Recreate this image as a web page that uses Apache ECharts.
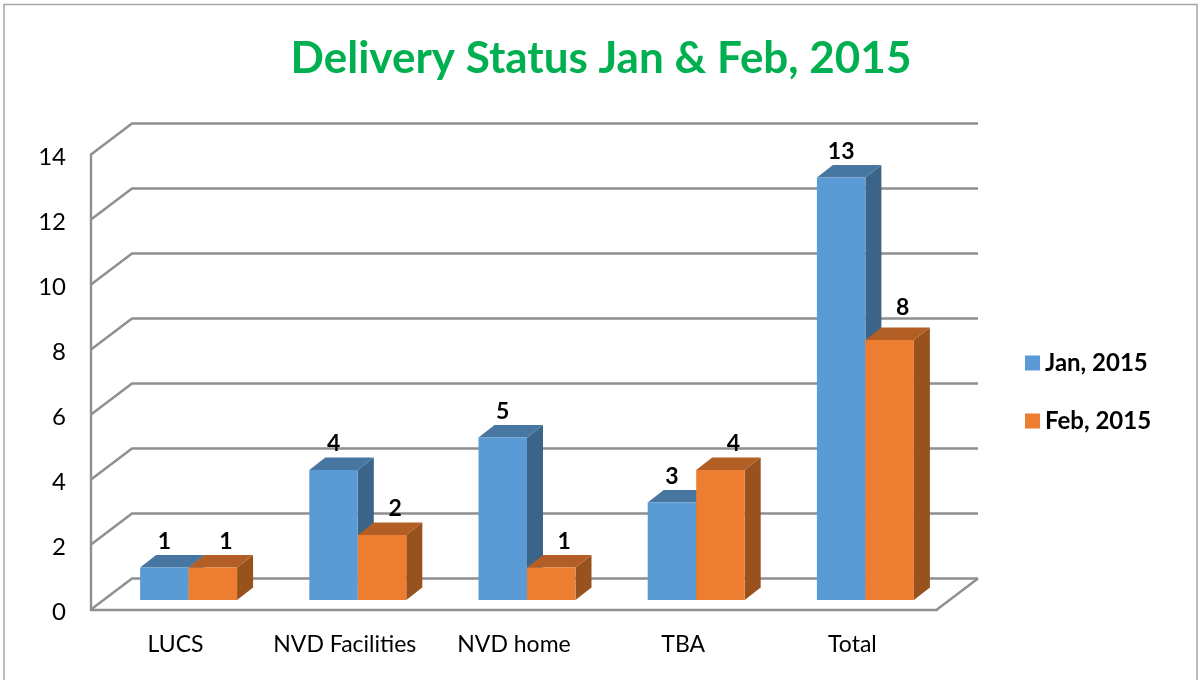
<!DOCTYPE html>
<html>
<head>
<meta charset="utf-8">
<title>Delivery Status</title>
<script src="https://cdn.jsdelivr.net/npm/echarts@6/dist/echarts.min.js"></script>
<style>
  html, body { margin: 0; padding: 0; background: #fff; overflow: hidden; }
  #chart { width: 1198px; height: 680px; }
</style>
</head>
<body>
<div id="chart"></div>
<script>
const categories = ["LUCS", "NVD Facilities", "NVD home", "TBA", "Total"];
const janValues = [1, 4, 5, 3, 13];
const febValues = [1, 2, 1, 4, 8];
const wallTicks = [0, 2, 4, 6, 8, 10, 12, 14];

const FONT = "Lato, 'Open Sans', sans-serif";
const GRID_COLOR = "#8f8f8f";

// how far the back wall sits behind the front plane
const WALL_DX = 41;
const WALL_DY = 31;
// bars stand a little way in from the front of the floor
const BAR_DX = 13;
const BAR_DY = 9.5;
// depth of each bar
const DEPTH_X = 16;
const DEPTH_Y = 12.5;
const BAR_RATIO = 0.2866;

// gridline: from the front axis up to the back wall, then along it
function renderWall(params, api) {
  const grid = params.coordSys;
  const y = api.coord([0, api.value(0)])[1];
  const children = [
    {
      type: "polyline",
      shape: {
        points: [
          [grid.x, y],
          [grid.x + WALL_DX, y - WALL_DY],
          [grid.x + grid.width + WALL_DX, y - WALL_DY],
        ],
      },
      style: { stroke: GRID_COLOR, lineWidth: 2.4, fill: null },
    },
  ];
  // right edge of the floor
  if (api.value(0) === 0) {
    children.push({
      type: "line",
      shape: {
        x1: grid.x + grid.width,
        y1: y,
        x2: grid.x + grid.width + WALL_DX,
        y2: y - WALL_DY,
      },
      style: { stroke: GRID_COLOR, lineWidth: 2.4 },
    });
  }
  return { type: "group", children: children };
}

function makeBarRenderer(side, front, top, flank, labelShift) {
  return function (params, api) {
    const value = api.value(1);
    const topPoint = api.coord([api.value(0), value]);
    const basePoint = api.coord([api.value(0), 0]);
    const w = api.size([1, 0])[0] * BAR_RATIO;
    const x0 = topPoint[0] + BAR_DX + (side < 0 ? -w : 0);
    const x1 = x0 + w;
    const y0 = topPoint[1] - BAR_DY;
    const y1 = basePoint[1] - BAR_DY;
    // the label of the tall Feb bar sits a bit higher in the original
    const labelLift = side > 0 && value === 8 ? 6 : 0;
    return {
      type: "group",
      children: [
        {
          type: "polygon",
          shape: { points: [[x1, y0], [x1 + DEPTH_X, y0 - DEPTH_Y], [x1 + DEPTH_X, y1 - DEPTH_Y], [x1, y1]] },
          style: { fill: flank },
        },
        {
          type: "polygon",
          shape: { points: [[x0, y0], [x0 + DEPTH_X, y0 - DEPTH_Y], [x1 + DEPTH_X, y0 - DEPTH_Y], [x1, y0]] },
          style: { fill: top },
        },
        {
          type: "rect",
          shape: { x: x0, y: y0, width: w, height: y1 - y0 },
          style: { fill: front },
        },
        {
          type: "text",
          z2: 100,
          style: {
            text: String(value),
            x: (x0 + x1) / 2 + labelShift,
            y: y0 - DEPTH_Y - 13.5 - labelLift,
            fill: "#000",
            font: "bold 23px " + FONT,
            textAlign: "center",
            textVerticalAlign: "middle",
          },
        },
      ],
    };
  };
}

const chart = echarts.init(document.getElementById("chart"), null, { renderer: "canvas" });

chart.setOption({
  animation: false,
  backgroundColor: "#ffffff",
  title: {
    text: "Delivery Status Jan & Feb, 2015",
    left: 596,
    top: 32,
    textAlign: "center",
    textStyle: { color: "#00B050", fontFamily: FONT, fontWeight: "bold", fontSize: 44 },
  },
  legend: {
    orient: "vertical",
    left: 1020,
    top: 346,
    itemWidth: 15,
    itemHeight: 15,
    itemGap: 34,
    icon: "rect",
    data: ["Jan, 2015", "Feb, 2015"],
    textStyle: { color: "#000", fontFamily: FONT, fontWeight: "bold", fontSize: 24 },
  },
  grid: { left: 91, top: 154.5, width: 846, height: 455 },
  xAxis: {
    type: "category",
    data: categories,
    axisLine: { lineStyle: { color: GRID_COLOR, width: 2.4 } },
    axisTick: { show: false },
    axisLabel: { color: "#000", fontFamily: FONT, fontSize: 23, margin: 24, interval: 0 },
  },
  yAxis: {
    type: "value",
    min: 0,
    max: 14,
    interval: 2,
    axisLine: { show: true, lineStyle: { color: GRID_COLOR, width: 2.4 } },
    axisTick: { show: false },
    splitLine: { show: false },
    axisLabel: {
      color: "#000",
      fontFamily: FONT,
      fontSize: 24,
      margin: 25,
      verticalAlign: "top",
      padding: [-9, 0, 0, 0],
    },
  },
  graphic: [
    {
      type: "rect",
      silent: true,
      shape: { x: 4, y: 4.5, width: 1193, height: 720 },
      style: { fill: null, stroke: "#a6a6a6", lineWidth: 1.5 },
    },
  ],
  series: [
    {
      type: "custom",
      silent: true,
      z: 1,
      data: wallTicks.map((t) => [t]),
      encode: { y: 0 },
      renderItem: renderWall,
    },
    {
      name: "Jan, 2015",
      type: "custom",
      z: 3,
      itemStyle: { color: "#5B9BD5" },
      data: janValues.map((v, i) => [i, v]),
      encode: { x: 0, y: 1 },
      renderItem: makeBarRenderer(-1, "#5B9BD5", "#4776A1", "#3A6589", 0),
    },
    {
      name: "Feb, 2015",
      type: "custom",
      z: 4,
      itemStyle: { color: "#ED7D31" },
      data: febValues.map((v, i) => [i, v]),
      encode: { x: 0, y: 1 },
      renderItem: makeBarRenderer(1, "#ED7D31", "#B25E25", "#97521D", 13),
    },
  ],
});
</script>
</body>
</html>
